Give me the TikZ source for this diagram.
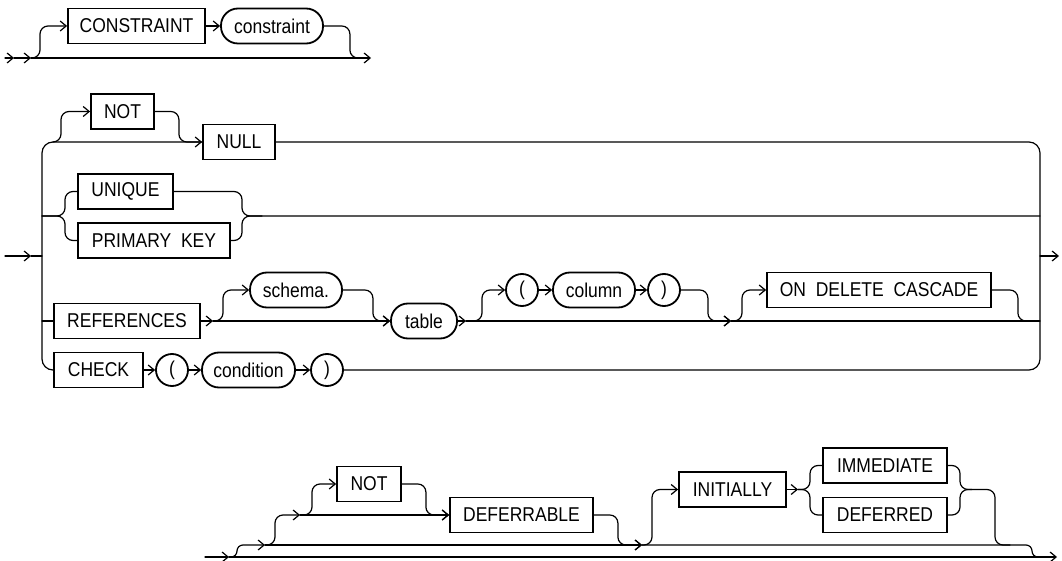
\documentclass[tikz,border=0pt]{standalone}
\usepackage{fontspec}
\setmainfont[FakeStretch=0.875]{Liberation Sans}
\usetikzlibrary{arrows.meta,calc,positioning}

\begin{document}
\begin{tikzpicture}[x=1pt,y=-1pt,>={Straight Barb[length=6pt,width=10pt]},
  line cap=round,
  every node/.style={font=\fontsize{20}{24}\selectfont},
  kw/.style={draw,line width=1.8pt,inner sep=0pt,minimum height=35pt},
  ident/.style={draw,line width=1.8pt,rounded corners=17pt,inner sep=0pt,
   minimum height=35pt},
  sym/.style={draw,circle,line width=1.8pt,inner sep=0pt,minimum size=32pt},
  rail/.style={line width=1.2pt,rounded corners=8pt}]
 \useasboundingbox (0,0) rectangle (1062,561);
 % constraint name
 \coordinate (t0) at (5,58);
 \coordinate (t1) at (14,58);
 \coordinate (t2) at (31,58);
 \coordinate (t3) at (371,58);
 \node[kw,minimum width=137pt] (cons) at (136.5,26) {CONSTRAINT};
 \node[ident,minimum width=102pt] (consname) at (272,26) {constraint};
 \draw[rail,->] (t0) -- (t1);
 \draw[rail,->] (t1) -- (t2);
 \draw[rail,->] (t2) -- (t3);
 \draw[rail,->] (t2) -- ++(9,0) |- (cons.west);
 \draw[rail,->] (cons) -- (consname);
 \draw[rail] (consname.east) -- ++(26,0) |- ($(t3)+(-10,0)$);
 % constraint body
 \coordinate (m0) at (5,256);
 \coordinate (m1) at (31,256);
 \coordinate (lb) at (42,256);
 \coordinate (rb) at (1040,256);
 \coordinate (m2) at (1059,256);
 \node[kw,minimum width=63pt] (notA) at (122.5,111.5) {NOT};
 \node[kw,minimum width=72pt] (null) at (239,142) {NULL};
 \node[kw,minimum width=95pt] (uniq) at (125.5,191.5) {UNIQUE};
 \node[kw,minimum width=152pt] (pkey) at (154,240.5) {PRIMARY\ \ KEY};
 \node[kw,minimum width=146pt] (refs) at (127,321) {REFERENCES};
 \node[ident,minimum width=92pt] (schema) at (296,290) {schema.};
 \node[ident,minimum width=66pt] (tbl) at (424,321) {table};
 \node[sym] (lp) at (522,290) {(};
 \node[ident,minimum width=82pt] (col) at (594,290) {column};
 \node[sym] (rp) at (664,290) {)};
 \node[kw,minimum width=224pt] (odc) at (879,290) {ON\ \ DELETE\ \ CASCADE};
 \node[kw,minimum width=89pt] (chk) at (98.5,370) {CHECK};
 \node[sym] (lp2) at (172,370) {(};
 \node[ident,minimum width=93pt] (cond) at (248.5,370) {condition};
 \node[sym] (rp2) at (327,370) {)};
 \draw[rail,->] (m0) -- (m1);
 \draw[rail] (m1) -- (lb);
 \draw[rail,->] (rb) -- (m2);
 \draw[rail,rounded corners=11pt] (null.west) -- (lb |- null)
  -- (lb |- chk) -- (chk.west);
 \draw[rail,rounded corners=11pt] (null.east) -- (rb |- null)
  -- (rb |- rp2) -- (rp2.east);
 % NOT NULL
 \draw[rail,->] ($(lb |- null)+(11,0)$) -- ++(8,0) |- (notA.west);
 \draw[rail,->] (notA.east) -- ++(24,0) |- (null.west);
 % UNIQUE / PRIMARY KEY
 \coordinate (us) at (65,216);
 \coordinate (uj) at (242,216);
 \draw[rail] (lb |- us) -- (us) |- (uniq.west);
 \draw[rail] (lb |- us) -- (us) |- (pkey.west);
 \draw[rail] (uniq.east) -| (uj) -- (rb |- uj);
 \draw[rail] (pkey.east) -| (uj) -- ++(20,0);
 % REFERENCES
 \coordinate (rf1) at (213,321);
 \coordinate (tb1) at (466,321);
 \coordinate (cs1) at (731,321);
 \draw[rail] (lb |- refs) -- (refs.west);
 \draw[rail,->] (refs) -- (rf1);
 \draw[rail,->] (rf1) -- (tbl);
 \draw[rail,->] (rf1) -- ++(10,0) |- (schema.west);
 \draw[rail,->] (schema.east) -- ++(30,0) |- (tbl.west);
 \draw[rail,->] (tbl) -- (tb1);
 \draw[rail,->] (tb1) -- (cs1);
 \draw[rail,->] (tb1) -- ++(16,0) |- (lp.west);
 \draw[rail,->] (lp) -- (col);
 \draw[rail,->] (col) -- (rp);
 \draw[rail,->] (rp.east) -- ++(27,0) |- (cs1);
 \draw[rail,->] (cs1) -- ++(11,0) |- (odc.west);
 \draw[rail] (cs1) -- (rb |- cs1);
 \draw[rail] (odc.east) -- ++(26,0) |- ($(rb |- cs1)+(-12,0)$);
 % CHECK
 \draw[rail,->] (chk) -- (lp2);
 \draw[rail,->] (lp2) -- (cond);
 \draw[rail,->] (cond) -- (rp2);
 % constraint state
 \coordinate (b0) at (205,557);
 \coordinate (b1) at (229,557);
 \coordinate (b2) at (265,545);
 \coordinate (b3) at (300,515);
 \coordinate (b4) at (642,545);
 \coordinate (b5) at (1057,557);
 \coordinate (i1) at (798,489.5);
 \coordinate (isp) at (810,489.5);
 \coordinate (ijn) at (960,489.5);
 \node[kw,minimum width=64pt] (notB) at (369,484) {NOT};
 \node[kw,minimum width=143pt] (defer) at (521.5,515) {DEFERRABLE};
 \node[kw,minimum width=107pt] (init) at (732.5,489.5) {INITIALLY};
 \node[kw,minimum width=124pt] (imm) at (885,465.5) {IMMEDIATE};
 \node[kw,minimum width=124pt] (dfd) at (885,515) {DEFERRED};
 \draw[rail,->] (b0) -- (b1);
 \draw[rail,->] (b1) -- (b5);
 \draw[rail,rounded corners=6pt,->] (b1) -- ++(8,0) |- (b2);
 \draw[rail,->] (b2) -- ++(10,0) |- (b3);
 \draw[rail,->] (b3) -- (defer);
 \draw[rail,->] (b3) -- ++(12,0) |- (notB.west);
 \draw[rail,->] (notB.east) -- ++(24,0) |- (defer.west);
 \draw[rail,->] (defer.east) -- ++(24,0) |- (b4);
 \draw[rail,->] (b2) -- (b4);
 \draw[rail,->] (b4) -- ++(10,0) |- (init.west);
 \draw[rail,->] (init) -- (i1);
 \draw[rail] (i1) -- (isp) |- (imm.west);
 \draw[rail] (i1) -- (isp) |- (dfd.west);
 \draw[rail] (imm.east) -| (ijn) -- ++(35,0) |- ($(b4)+(368,0)$);
 \draw[rail] (dfd.east) -| (ijn) -- ++(12,0);
 \draw[rail,rounded corners=6pt] (b4) -- ++(390,0) |- ($(b5)+(-12,0)$);
\end{tikzpicture}
\end{document}
